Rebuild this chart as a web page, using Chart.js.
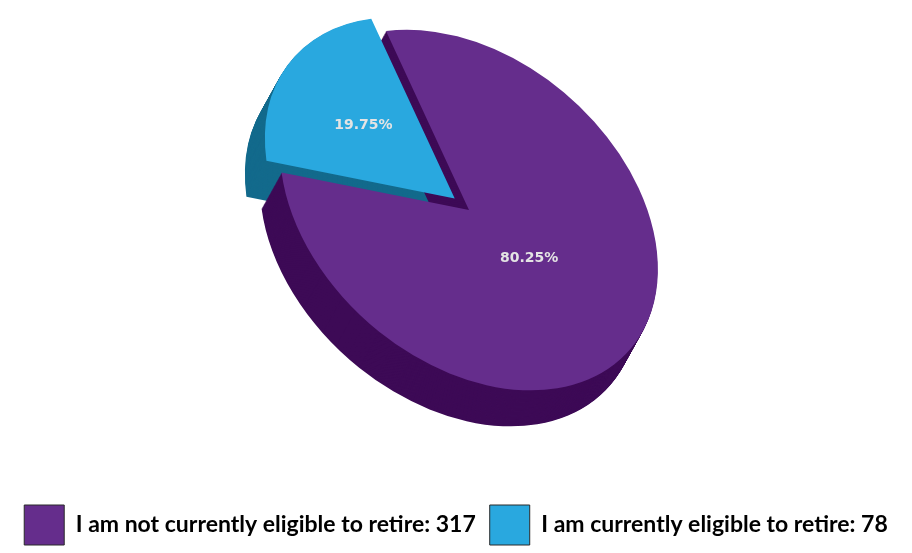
<!DOCTYPE html>
<html>
<head>
<meta charset="utf-8">
<script src="https://cdn.jsdelivr.net/npm/chart.js@4.4.1/dist/chart.umd.min.js"></script>
<style>
  html, body { margin: 0; padding: 0; background: #fff; }
  #wrap { width: 912px; height: 553px; }
</style>
</head>
<body>
<div id="wrap"><canvas id="retireChart"></canvas></div>
<script>
const categories = ['I am not currently eligible to retire', 'I am currently eligible to retire'];
const counts = [317, 78];
const topColors = ['#652d8c', '#29a8df'];
const sideColors = ['#3d0a56', '#136a8c'];
const explode = [0, 72];

// fake 3D: the flat pie gets squashed into a tilted ellipse and pushed down for the walls
const tilt = { angle: 41, major: 1.017, minor: 0.721, liftX: 13, liftY: -35.5 };
const depth = { dx: -20, dy: 36, steps: 40 };

function projection(arc) {
    return new DOMMatrix()
        .translate(arc.x + tilt.liftX, arc.y + tilt.liftY)
        .rotate(tilt.angle)
        .scale(tilt.major, tilt.minor)
        .translate(-arc.x, -arc.y);
}

const total = counts.reduce((a, b) => a + b, 0);

const pie3d = {
    id: 'pie3d',
    beforeDatasetDraw(chart, args) {
        const ctx = chart.ctx;
        const arcs = args.meta.data;
        const m = projection(arcs[0]);

        // walls, back slice first
        for (let i = arcs.length - 1; i >= 0; i--) {
            const arc = arcs[i];
            const wall = Object.create(arc, {
                options: { value: Object.assign({}, arc.options, { backgroundColor: sideColors[i], borderWidth: 0 }) }
            });
            for (let s = depth.steps; s > 0; s--) {
                ctx.save();
                ctx.translate(depth.dx * s / depth.steps, depth.dy * s / depth.steps);
                ctx.transform(m.a, m.b, m.c, m.d, m.e, m.f);
                wall.draw(ctx);
                ctx.restore();
            }
        }

        // top faces are drawn by chart.js itself, inside the tilt
        ctx.save();
        ctx.transform(m.a, m.b, m.c, m.d, m.e, m.f);
    },
    afterDatasetDraw(chart, args) {
        const ctx = chart.ctx;
        ctx.restore();

        const arcs = args.meta.data;
        const m = projection(arcs[0]);
        ctx.save();
        ctx.font = 'bold 14px "DejaVu Sans"';
        ctx.fillStyle = '#e4e4e4';
        ctx.textAlign = 'center';
        ctx.textBaseline = 'middle';
        arcs.forEach((arc, i) => {
            // somewhere between the half radius and the centroid of the slice
            const half = (arc.endAngle - arc.startAngle) / 2;
            const mid = arc.startAngle + half;
            const centroid = 2 / 3 * Math.sin(half) / half;
            const r = arc.outerRadius * (0.6 * 0.5 + 0.4 * centroid) + (arc.options.offset || 0) / 4;
            const q = m.transformPoint(new DOMPoint(arc.x + Math.cos(mid) * r, arc.y + Math.sin(mid) * r));
            ctx.fillText((counts[i] / total * 100).toFixed(2) + '%', q.x, q.y);
        });
        ctx.restore();
    }
};

new Chart(document.getElementById('retireChart'), {
    type: 'pie',
    data: {
        labels: categories,
        datasets: [{
            data: counts,
            backgroundColor: topColors,
            borderWidth: 0,
            offset: explode
        }]
    },
    options: {
        responsive: true,
        maintainAspectRatio: false,
        animation: false,
        events: [],
        rotation: -57.7,
        layout: {
            padding: { bottom: -2 }
        },
        plugins: {
            tooltip: { enabled: false },
            legend: {
                position: 'bottom',
                labels: {
                    boxWidth: 40,
                    boxHeight: 40,
                    padding: 14,
                    color: '#1c1c1c',
                    font: { family: 'Lato', size: 23, weight: 'bold' },
                    generateLabels: () => categories.map((c, i) => ({
                        text: `${c}: ${counts[i]}`,
                        fillStyle: topColors[i],
                        strokeStyle: '#2a2a2a',
                        lineWidth: 1,
                        hidden: false,
                        index: i
                    }))
                }
            }
        }
    },
    plugins: [pie3d]
});
</script>
</body>
</html>
